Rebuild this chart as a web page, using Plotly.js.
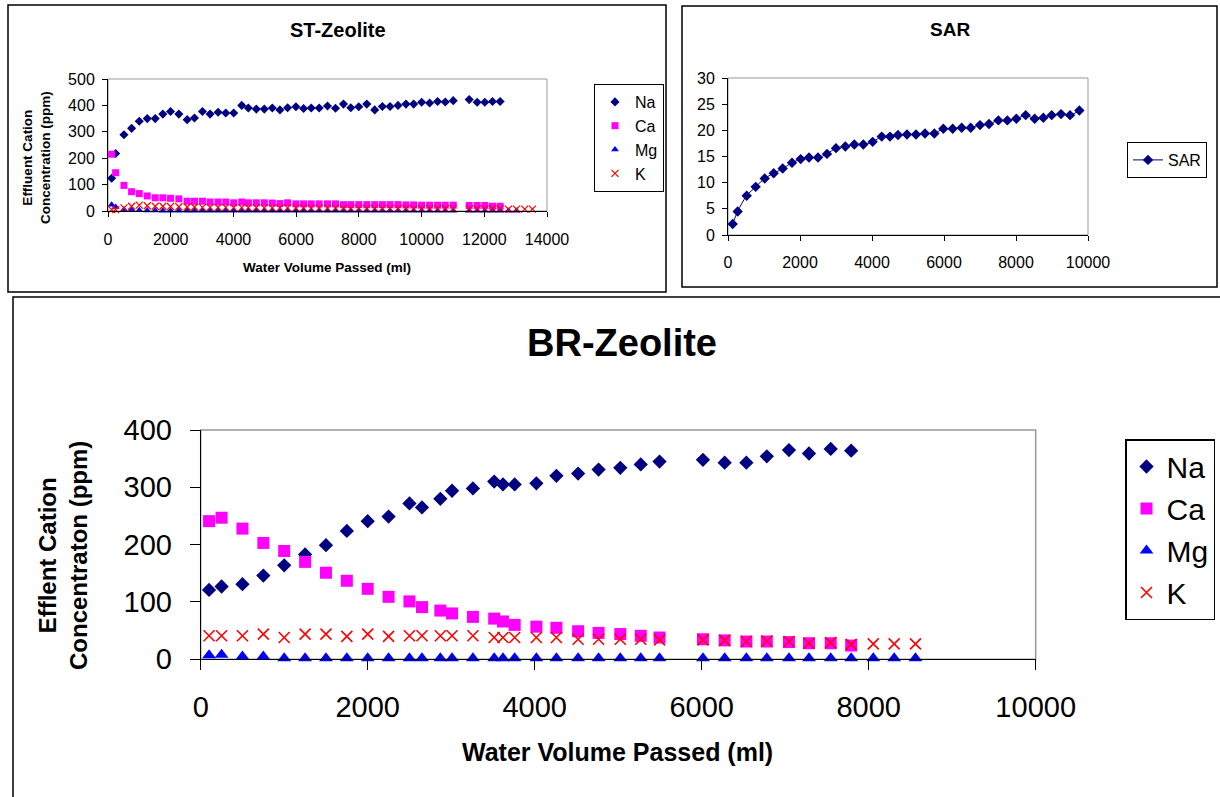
<!DOCTYPE html>
<html>
<head>
<meta charset="utf-8">
<script src="https://cdn.plot.ly/plotly-3.0.1.min.js"></script>
<style>
  html, body { margin: 0; padding: 0; background: #ffffff; }
  #chart { width: 1220px; height: 797px; }
</style>
</head>
<body>
<div id="chart"></div>
<script>
// ---------------- ST-Zeolite (top left) ----------------
const stX = [117, 244, 509, 753, 997, 1252, 1506, 1750, 1994, 2259, 2524, 2758, 3012, 3256, 3511, 3755, 4009, 4264, 4476, 4730,
             4985, 5240, 5483, 5728, 5993, 6237, 6481, 6735, 7000, 7255, 7510, 7743, 7997, 8252, 8506, 8750, 8995, 9249, 9503, 9748,
             10002, 10257, 10511, 10755, 11010, 11519, 11773, 12017, 12262, 12505];
const stXExtra = [12771, 13025, 13290, 13535];
const stNa = [124, 218, 289, 313, 340, 350, 350, 367, 377, 367, 346, 352, 377, 367, 374, 371, 371, 400, 390, 386,
              386, 390, 383, 391, 395, 388, 390, 390, 398, 389, 405, 391, 395, 405, 383, 396, 396, 400, 405, 405,
              412, 409, 415, 413, 418, 422, 412, 412, 415, 415];
const stCa = [215, 145, 97, 73, 66, 57, 50, 50, 48, 46, 37, 37, 37, 34, 34, 34, 31, 34, 31, 31,
              31, 30, 28, 31, 27, 27, 27, 27, 27, 27, 24, 24, 24, 24, 24, 24, 24, 24, 23, 23,
              22, 22, 22, 22, 22, 21, 21, 21, 18, 18];
const stMg = [24, 15, 6, 4, 3, 2, 2, 1, 1, 1, 1, 1, 1, 1, 1, 1, 1, 1, 1, 1,
              1, 1, 1, 1, 1, 1, 1, 1, 1, 1, 1, 1, 1, 1, 1, 1, 1, 1, 1, 1,
              1, 1, 1, 1, 1, 1, 1, 1, 1, 1, 1, 1];
const stK  = [5, 5, 12, 18, 22, 20, 18, 18, 17, 16, 15, 15, 14, 14, 14, 14, 13, 13, 13, 13,
              12, 12, 12, 12, 12, 12, 11, 11, 11, 11, 11, 10, 10, 10, 10, 10, 10, 10, 10, 9,
              9, 9, 9, 9, 9, 8, 8, 8, 8, 8, 7, 7, 7, 7];

// ---------------- SAR (top right) ----------------
const sarX = [130, 269, 519, 769, 1019, 1269, 1519, 1778, 2019, 2250, 2500, 2750, 3000, 3259, 3509, 3759, 4019, 4269, 4500, 4722,
              4972, 5222, 5472, 5732, 5982, 6241, 6491, 6741, 7000, 7250, 7510, 7760, 8010, 8269, 8519, 8760, 8991, 9250, 9501, 9760];
const sarY = [2.1, 4.5, 7.5, 9.2, 10.8, 11.8, 12.7, 13.8, 14.5, 14.8, 14.8, 15.5, 16.6, 16.9, 17.3, 17.3, 17.8, 18.8, 18.8, 19.1,
              19.2, 19.2, 19.4, 19.4, 20.3, 20.3, 20.5, 20.5, 21.0, 21.2, 21.9, 21.9, 22.2, 22.9, 22.2, 22.4, 22.9, 23.1, 22.9, 23.8];

// ---------------- BR-Zeolite (bottom) ----------------
const brX = [100, 250, 500, 750, 1000, 1250, 1500, 1750, 2000, 2250, 2500, 2650, 2870, 3010, 3260, 3515, 3620, 3760, 4020, 4260,
             4520, 4765, 5025, 5270, 5495, 6015, 6275, 6535, 6780, 7045, 7285, 7545, 7790];
const brXExtra = [8055, 8305, 8560];
const brNa = [121, 127, 131, 146, 164, 183, 199, 224, 241, 249, 272, 265, 280, 294, 298, 310, 305, 305, 307, 320,
              324, 331, 334, 340, 345, 348, 343, 343, 354, 365, 359, 367, 364];
const brCa = [241, 247, 228, 203, 189, 170, 151, 137, 123, 109, 101, 91, 85, 80, 74, 71, 66, 60, 57, 55,
              49, 46, 44, 41, 38, 35, 33, 31, 31, 30, 28, 28, 24];
const brMg = [7, 8, 5, 5, 2, 2, 2, 2, 2, 2, 2, 2, 2, 2, 2, 2, 2, 2, 2, 2,
              2, 2, 2, 2, 2, 2, 2, 2, 2, 2, 2, 2, 2, 2, 2, 2];
const brK  = [41, 41, 41, 44, 38, 44, 44, 40, 44, 40, 41, 41, 41, 41, 41, 38, 38, 38, 38, 38,
              35, 35, 35, 35, 34, 34, 33, 31, 32, 31, 28, 29, 26, 27, 27, 27];

const seriesNames = ['Na', 'Ca', 'Mg', 'K'];
const titles = {st: 'ST-Zeolite', sar: 'SAR', br: 'BR-Zeolite'};
const xTitle = 'Water Volume Passed (ml)';
const stYTitle = 'Effluent Cation<br>Concentration (ppm)';
const brYTitle = 'Efflent Cation<br>Concentraton (ppm)';

// ---------------- styling ----------------
const FONT = 'Liberation Sans, Arial, Helvetica, sans-serif';
const NAVY = '#000080', MAG = '#FF00FF', BLUE = '#0000FF', RED = '#FF0000';
const W = 1220, H = 797;
const px = v => v / W;
const py = v => 1 - v / H;

function mk(name, x, y, xa, ya, leg, sym, size, color) {
  const m = {symbol: sym, size: size, color: color};
  if (sym.indexOf('x-thin') === 0) { m.line = {color: color, width: size > 9 ? 1.6 : 1.2}; }
  return {type: 'scatter', mode: 'markers', name: name, x: x, y: y, xaxis: xa, yaxis: ya,
          legend: leg, marker: m, cliponaxis: false, hoverinfo: 'skip'};
}

const traces = [
  mk(seriesNames[0], stX, stNa, 'x', 'y', 'legend', 'diamond', 7, NAVY),
  mk(seriesNames[1], stX, stCa, 'x', 'y', 'legend', 'square', 7, MAG),
  mk(seriesNames[2], stX.concat(stXExtra.slice(0, 2)), stMg, 'x', 'y', 'legend', 'triangle-up', 7, BLUE),
  mk(seriesNames[3], stX.concat(stXExtra), stK, 'x', 'y', 'legend', 'x-thin-open', 7, RED),
  {type: 'scatter', mode: 'lines+markers', name: titles.sar, x: sarX, y: sarY, xaxis: 'x2', yaxis: 'y2',
   legend: 'legend2', line: {color: NAVY, width: 1, shape: 'spline'},
   marker: {symbol: 'diamond', size: 8, color: NAVY}, cliponaxis: false, hoverinfo: 'skip'},
  mk(seriesNames[0], brX, brNa, 'x3', 'y3', 'legend3', 'diamond', 11, NAVY),
  mk(seriesNames[1], brX, brCa, 'x3', 'y3', 'legend3', 'square', 12, MAG),
  mk(seriesNames[2], brX.concat(brXExtra), brMg, 'x3', 'y3', 'legend3', 'triangle-up', 12, BLUE),
  mk(seriesNames[3], brX.concat(brXExtra), brK, 'x3', 'y3', 'legend3', 'x-thin-open', 11, RED)
];

function ax(domain, range, dtick, fs, tl, so) {
  return {domain: domain, range: range, dtick: dtick, tick0: 0, tickformat: 'd', showgrid: false, zeroline: false,
          showline: true, linecolor: '#000000', linewidth: 1, ticks: 'outside', ticklen: tl,
          tickcolor: '#000000', tickwidth: 1, tickfont: {family: FONT, size: fs, color: '#000000'},
          ticklabelstandoff: so, fixedrange: true};
}

function ann(text, x, y, size, angle) {
  const a = {text: text, xref: 'paper', yref: 'paper', x: px(x), y: py(y), xanchor: 'center', yanchor: 'middle',
             showarrow: false, font: {family: FONT, size: size, color: '#000000'}};
  if (angle) a.textangle = angle;
  return a;
}

const layout = {
  width: W, height: H,
  margin: {l: 0, r: 0, t: 0, b: 0, pad: 0},
  paper_bgcolor: '#ffffff', plot_bgcolor: '#ffffff',
  hovermode: false,
  xaxis:  Object.assign(ax([px(108), px(547)], [0, 14000], 2000, 16, 5, 9), {anchor: 'y'}),
  yaxis:  Object.assign(ax([py(211), py(79)], [0, 500], 100, 16, 5, 4), {anchor: 'x'}),
  xaxis2: Object.assign(ax([px(728), px(1088)], [0, 10000], 2000, 16, 5, 8), {anchor: 'y2'}),
  yaxis2: Object.assign(ax([py(235), py(78)], [0, 30], 5, 16, 5, 4), {anchor: 'x2'}),
  xaxis3: Object.assign(ax([px(200.7), px(1035.7)], [0, 10000], 2000, 29, 10, 12), {anchor: 'y3'}),
  yaxis3: Object.assign(ax([py(659.3), py(430)], [0, 400], 100, 29, 10, 12), {anchor: 'x3'}),
  legend: {x: px(664), xanchor: 'right', y: py(84), yanchor: 'top', bgcolor: '#ffffff',
           bordercolor: '#000000', borderwidth: 1, font: {family: FONT, size: 16, color: '#000000'}},
  legend2: {x: px(1127), xanchor: 'left', y: py(142), yanchor: 'top', bgcolor: '#ffffff',
            bordercolor: '#000000', borderwidth: 1, font: {family: FONT, size: 16, color: '#000000'}},
  legend3: {x: px(1125), xanchor: 'left', y: py(439), yanchor: 'top', bgcolor: '#ffffff',
            bordercolor: '#000000', borderwidth: 1.5, font: {family: FONT, size: 30, color: '#000000'}},
  shapes: [
    // panel frames
    {type: 'rect', xref: 'paper', yref: 'paper', x0: px(8), x1: px(666), y0: py(292), y1: py(5),
     line: {color: '#000000', width: 1.5}, layer: 'below'},
    {type: 'rect', xref: 'paper', yref: 'paper', x0: px(682), x1: px(1217), y0: py(287), y1: py(6),
     line: {color: '#000000', width: 1.5}, layer: 'below'},
    {type: 'rect', xref: 'paper', yref: 'paper', x0: px(13), x1: px(1230), y0: py(810), y1: py(297),
     line: {color: '#000000', width: 1.5}, layer: 'below'},
    // plot area frames (grey)
    {type: 'rect', xref: 'x domain', yref: 'y domain', x0: 0, x1: 1, y0: 0, y1: 1,
     line: {color: '#999999', width: 1}, layer: 'below'},
    {type: 'rect', xref: 'x2 domain', yref: 'y2 domain', x0: 0, x1: 1, y0: 0, y1: 1,
     line: {color: '#999999', width: 1}, layer: 'below'},
    {type: 'rect', xref: 'x3 domain', yref: 'y3 domain', x0: 0, x1: 1, y0: 0, y1: 1,
     line: {color: '#999999', width: 1.5}, layer: 'below'}
  ],
  annotations: [
    ann('<b>' + titles.st + '</b>', 338, 30, 20),
    ann('<b>' + titles.sar + '</b>', 950, 30, 19),
    ann('<b>' + titles.br + '</b>', 622, 343, 38),
    ann('<b>' + xTitle + '</b>', 327, 267, 13.5),
    ann('<b>' + stYTitle + '</b>', 36, 158, 13.5, -90),
    ann('<b>' + xTitle + '</b>', 617, 752, 25),
    ann('<b>' + brYTitle + '</b>', 63, 556, 24, -90)
  ]
};

Plotly.newPlot('chart', traces, layout, {displayModeBar: false, staticPlot: true});
</script>
</body>
</html>
